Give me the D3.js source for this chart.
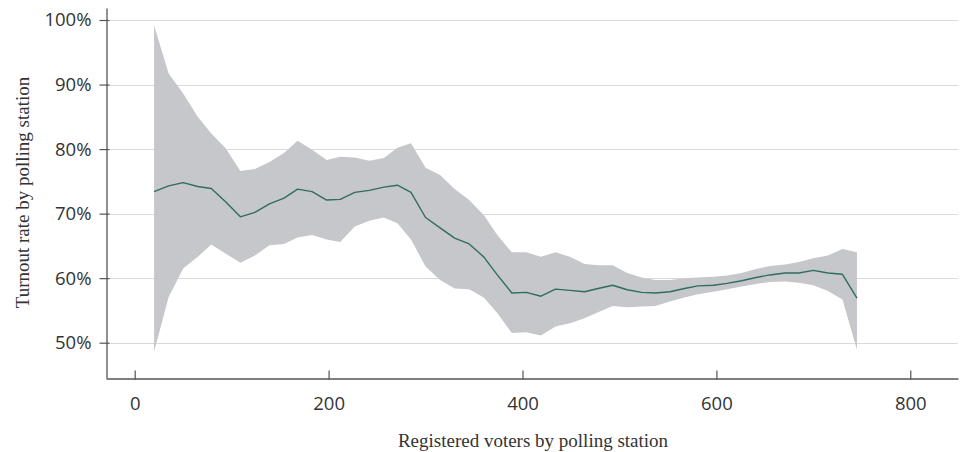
<!DOCTYPE html>
<html>
<head>
<meta charset="utf-8">
<script src="https://cdn.jsdelivr.net/npm/d3@7"></script>
<style>
  html, body { margin: 0; padding: 0; background: #ffffff; }
  svg { display: block; }
</style>
</head>
<body>
<svg id="chart" width="963" height="452"></svg>
<script>
// Registered voters per polling station (bin positions)
const voters = [20, 35, 50, 65, 79, 94, 109, 124, 139, 154, 168, 183, 198, 212, 227, 242, 257, 271, 285, 300,
  315, 330, 345, 360, 374, 389, 404, 419, 434, 449, 464, 478, 493, 508, 523, 537, 552, 567, 581, 597,
  611, 626, 641, 655, 671, 685, 700, 715, 730, 745];

// Mean turnout (%) per bin
const turnoutMean = [73.4, 74.3, 74.8, 74.2, 73.9, 71.8, 69.5, 70.2, 71.5, 72.4, 73.8, 73.4, 72.1, 72.2, 73.3, 73.6, 74.1, 74.4, 73.3, 69.4,
  67.8, 66.2, 65.3, 63.3, 60.5, 57.7, 57.8, 57.2, 58.3, 58.1, 57.9, 58.4, 58.9, 58.2, 57.8, 57.7, 57.9, 58.4, 58.8, 58.9,
  59.2, 59.6, 60.1, 60.5, 60.8, 60.8, 61.2, 60.8, 60.6, 56.9];

// Upper edge of the turnout band (%)
const turnoutHigh = [99.2, 91.7, 88.6, 85.0, 82.4, 80.1, 76.6, 76.9, 78.0, 79.4, 81.3, 79.9, 78.3, 78.8, 78.7, 78.2, 78.6, 80.2, 80.9, 77.1,
  76.0, 73.8, 72.1, 69.8, 66.7, 64.0, 64.0, 63.3, 64.0, 63.3, 62.2, 62.0, 62.0, 60.8, 60.1, 59.7, 59.7, 60.0, 60.1, 60.2,
  60.4, 60.8, 61.4, 61.9, 62.1, 62.5, 63.1, 63.5, 64.5, 64.0];

// Lower edge of the turnout band (%)
const turnoutLow = [48.6, 57.1, 61.5, 63.3, 65.2, 63.8, 62.4, 63.5, 65.1, 65.3, 66.3, 66.7, 66.0, 65.6, 68.0, 68.9, 69.4, 68.5, 66.0, 61.8,
  59.7, 58.4, 58.3, 57.0, 54.6, 51.5, 51.6, 51.1, 52.5, 53.0, 53.8, 54.7, 55.7, 55.5, 55.6, 55.7, 56.4, 57.0, 57.5, 57.9,
  58.3, 58.7, 59.1, 59.4, 59.5, 59.3, 58.9, 58.0, 56.7, 48.9];

const xTicks = [0, 200, 400, 600, 800];
const yTicks = [50, 60, 70, 80, 90, 100];
const xTitle = "Registered voters by polling station";
const yTitle = "Turnout rate by polling station";

const rows = voters.map((v, i) => ({ x: v, mean: turnoutMean[i], hi: turnoutHigh[i], lo: turnoutLow[i] }));

const svg = d3.select("#chart");
const plot = { left: 106, right: 958, top: 8, bottom: 378 };

const x = d3.scaleLinear().domain([-29.6, 849.2]).range([plot.left, plot.right]);
const y = d3.scaleLinear().domain([44.53, 101.86]).range([plot.bottom, plot.top]);

const axisColor = "#555555";
const textColor = "#333333";
const tickFont = "'Open Sans', sans-serif";
const titleFont = "'Liberation Serif', serif";

// horizontal gridlines
svg.append("g")
  .selectAll("line")
  .data(yTicks)
  .join("line")
  .attr("x1", plot.left)
  .attr("x2", plot.right)
  .attr("y1", d => Math.round(y(d)) + 0.5)
  .attr("y2", d => Math.round(y(d)) + 0.5)
  .attr("stroke", "#dadada")
  .attr("stroke-width", 1);

// turnout band
const band = d3.area()
  .x(d => x(d.x))
  .y0(d => y(d.lo))
  .y1(d => y(d.hi));

svg.append("path")
  .datum(rows)
  .attr("d", band)
  .attr("fill", "#c6c7cb");

// mean turnout line
const meanLine = d3.line()
  .x(d => x(d.x))
  .y(d => y(d.mean));

svg.append("path")
  .datum(rows)
  .attr("d", meanLine)
  .attr("fill", "none")
  .attr("stroke", "#2f6d60")
  .attr("stroke-width", 1.4)
  .attr("stroke-linejoin", "round");

// y axis
const yAxis = d3.axisLeft(y)
  .tickValues(yTicks)
  .tickFormat(d => d + "%")
  .tickSizeInner(7)
  .tickSizeOuter(0)
  .tickPadding(8);

const gy = svg.append("g")
  .attr("transform", `translate(${plot.left + 0.5},0)`)
  .call(yAxis);
gy.select(".domain").attr("stroke", axisColor).attr("stroke-width", 1.3);
gy.selectAll(".tick line").attr("stroke", axisColor).attr("stroke-width", 1.2).attr("x2", -7).attr("x1", 3);
gy.selectAll(".tick text")
  .attr("fill", textColor)
  .style("font-family", tickFont)
  .style("font-size", "18.5px");

// x axis
const xAxis = d3.axisBottom(x)
  .tickValues(xTicks)
  .tickFormat(d3.format("d"))
  .tickSizeInner(8)
  .tickSizeOuter(0)
  .tickPadding(10);

const gx = svg.append("g")
  .attr("transform", `translate(0,${plot.bottom + 0.5})`)
  .call(xAxis);
gx.select(".domain").attr("stroke", axisColor).attr("stroke-width", 1.3);
gx.selectAll(".tick line").attr("stroke", axisColor).attr("stroke-width", 1.2).attr("y1", -8).attr("y2", 1);
gx.selectAll(".tick text")
  .attr("fill", textColor)
  .style("font-family", tickFont)
  .style("font-size", "18.5px");

// axis titles
svg.append("text")
  .attr("x", 533)
  .attr("y", 447)
  .attr("text-anchor", "middle")
  .attr("fill", textColor)
  .style("font-family", titleFont)
  .style("font-size", "19px")
  .text(xTitle);

svg.append("text")
  .attr("transform", "translate(29,192.5) rotate(-90)")
  .attr("text-anchor", "middle")
  .attr("fill", textColor)
  .style("font-family", titleFont)
  .style("font-size", "19px")
  .text(yTitle);
</script>
</body>
</html>
